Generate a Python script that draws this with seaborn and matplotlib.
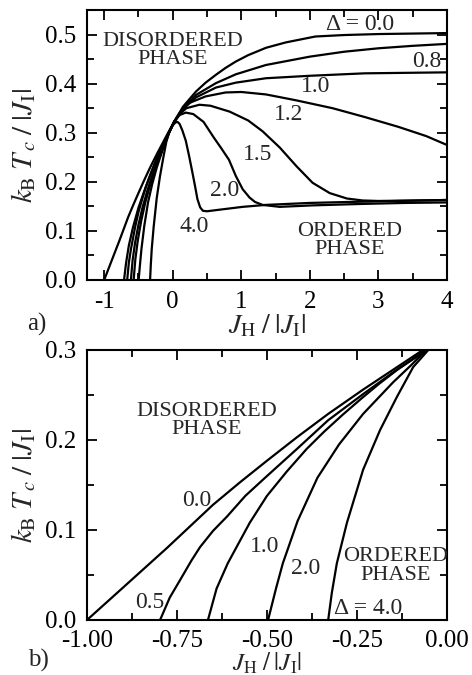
import matplotlib
matplotlib.use("Agg")
import matplotlib.pyplot as plt
import seaborn as sns
import pandas as pd
from matplotlib.ticker import MultipleLocator

# ---------------- data ----------------
d00_x = [-1.0, -0.9, -0.778, -0.65, -0.575, -0.5, -0.417, -0.33, -0.233, -0.15, -0.067, 0.02,
         0.15, 0.34, 0.48, 0.63, 0.77, 0.92, 1.1, 1.36, 1.65, 2.08, 2.5, 3.0, 3.5, 4.0]
d00_y = [0.0, 0.036, 0.08, 0.128, 0.153, 0.177, 0.203, 0.229, 0.256, 0.278, 0.300, 0.322,
         0.353, 0.384, 0.402, 0.418, 0.432, 0.445, 0.458, 0.473, 0.484, 0.496, 0.499, 0.501, 0.502, 0.503]

d05_x = [-0.797, -0.77, -0.742, -0.71, -0.686, -0.65, -0.611, -0.56, -0.5, -0.417, -0.33, -0.233,
         -0.15, -0.058, 0.02]
d05_y = [0.0, 0.025, 0.044, 0.066, 0.081, 0.099, 0.115, 0.138, 0.16, 0.19, 0.222, 0.251,
         0.275, 0.300, 0.322]

d08_x = [-0.71, -0.68, -0.64, -0.58, -0.5, -0.4, -0.3, -0.2, -0.1, -0.055, 0.02, 0.15, 0.34,
         0.63, 0.92, 1.36, 2.0, 2.5, 3.0, 3.5, 4.0]
d08_y = [0.0, 0.035, 0.07, 0.107, 0.147, 0.187, 0.223, 0.257, 0.287, 0.300, 0.322, 0.350, 0.377,
         0.401, 0.419, 0.438, 0.455, 0.465, 0.472, 0.477, 0.481]

d10_x = [-0.664, -0.64, -0.609, -0.548, -0.5, -0.445, -0.39, -0.342, -0.29, -0.238, -0.19, -0.135,
         -0.056, 0.02, 0.15, 0.34, 0.63, 0.92, 1.36, 2.0, 2.8, 3.4, 4.0]
d10_y = [0.0, 0.035, 0.063, 0.108, 0.138, 0.165, 0.19, 0.209, 0.228, 0.246, 0.262, 0.279,
         0.300, 0.322, 0.348, 0.372, 0.392, 0.402, 0.411, 0.416, 0.421, 0.422, 0.423]

d12_x = [-0.61, -0.585, -0.55, -0.5, -0.44, -0.37, -0.3, -0.22, -0.14, -0.055, 0.02, 0.1, 0.23,
         0.48, 0.77, 1.0, 1.36, 1.8, 2.33, 2.8, 3.29, 3.7, 4.0]
d12_y = [0.0, 0.04, 0.075, 0.112, 0.148, 0.182, 0.212, 0.242, 0.27, 0.300, 0.322, 0.340, 0.36,
         0.374, 0.382, 0.383, 0.378, 0.366, 0.35, 0.332, 0.312, 0.293, 0.275]

d15_x = [-0.57, -0.545, -0.51, -0.46, -0.4, -0.33, -0.26, -0.18, -0.11, -0.055, 0.02, 0.1, 0.2,
         0.39, 0.55, 0.83, 1.1, 1.31, 1.56, 1.81, 2.04, 2.29, 2.54, 2.77, 3.0, 3.5, 4.0]
d15_y = [0.0, 0.042, 0.08, 0.12, 0.158, 0.193, 0.224, 0.255, 0.28, 0.300, 0.322, 0.338, 0.350,
         0.357, 0.355, 0.343, 0.325, 0.303, 0.27, 0.231, 0.198, 0.177, 0.166, 0.162, 0.161, 0.162, 0.163]

d20_x = [-0.497, -0.475, -0.456, -0.415, -0.36, -0.3, -0.233, -0.15, -0.1, -0.058, 0.02, 0.1, 0.19,
         0.3, 0.45, 0.6, 0.7, 0.82, 0.92, 1.02, 1.12, 1.2, 1.31, 1.56, 2.04, 2.77, 3.4, 4.0]
d20_y = [0.0, 0.035, 0.063, 0.11, 0.158, 0.195, 0.229, 0.264, 0.283, 0.300, 0.322, 0.336, 0.341,
         0.338, 0.322, 0.29, 0.27, 0.245, 0.212, 0.185, 0.168, 0.159, 0.153, 0.149, 0.152, 0.155, 0.157, 0.158]

d40_x = [-0.33, -0.32, -0.306, -0.278, -0.233, -0.186, -0.139, -0.094, -0.052, 0.0, 0.04, 0.07,
         0.1, 0.14, 0.19, 0.24, 0.29, 0.33, 0.36, 0.4, 0.44, 0.5, 0.67, 1.02, 1.36, 2.0, 2.57, 3.3, 4.0]
d40_y = [0.0, 0.03, 0.063, 0.108, 0.167, 0.211, 0.248, 0.281, 0.300, 0.315, 0.321, 0.322,
         0.318, 0.305, 0.284, 0.252, 0.217, 0.188, 0.165, 0.148, 0.141, 0.140, 0.143, 0.149, 0.153,
         0.157, 0.159, 0.161, 0.163]

curves = {
    "0.0": (d00_x, d00_y), "0.5": (d05_x, d05_y), "0.8": (d08_x, d08_y),
    "1.0": (d10_x, d10_y), "1.2": (d12_x, d12_y), "1.5": (d15_x, d15_y),
    "2.0": (d20_x, d20_y), "4.0": (d40_x, d40_y),
}
top_deltas = ["0.0", "0.8", "1.0", "1.2", "1.5", "2.0", "4.0"]
bottom_deltas = ["0.0", "0.5", "1.0", "2.0", "4.0"]

top_xticks = [-1, 0, 1, 2, 3, 4]
top_xticklabels = ["-1", "0", "1", "2", "3", "4"]
top_yticks = [0.0, 0.1, 0.2, 0.3, 0.4, 0.5]
top_yticklabels = ["0.0", "0.1", "0.2", "0.3", "0.4", "0.5"]
bot_xticks = [-1.0, -0.75, -0.5, -0.25, 0.0]
bot_xticklabels = ["-1.00", "-0.75", "-0.50", "-0.25", "0.00"]
bot_yticks = [0.0, 0.1, 0.2, 0.3]
bot_yticklabels = ["0.0", "0.1", "0.2", "0.3"]

rows = []
for d, (xs, ys) in curves.items():
    for i, (xv, yv) in enumerate(zip(xs, ys)):
        rows.append({"delta": d, "i": i, "x": xv, "y": yv})
df = pd.DataFrame(rows)

# ---------------- style ----------------
sns.set_theme(style="ticks")
plt.rcParams["font.family"] = ["Liberation Serif", "DejaVu Serif"]
plt.rcParams["mathtext.fontset"] = "stix"
plt.rcParams["axes.linewidth"] = 1.5

fig = plt.figure(figsize=(4.72, 6.75), dpi=100)
W, H = 472, 675
ax1 = fig.add_axes([87 / W, 1 - 280 / H, 360 / W, 270 / H])
ax2 = fig.add_axes([87 / W, 1 - 620 / H, 360 / W, 270 / H])


def draw(ax, deltas):
    sub = df[df["delta"].isin(deltas)]
    sns.lineplot(data=sub, x="x", y="y", units="delta", estimator=None, sort=False,
                 color="black", lw=1.6, ax=ax, legend=False)


def style(ax, xt, xtl, yt, ytl, xminor, yminor, xpad):
    ax.set_xticks(xt)
    ax.set_xticklabels(xtl)
    ax.set_yticks(yt)
    ax.set_yticklabels(ytl)
    ax.xaxis.set_minor_locator(MultipleLocator(xminor))
    ax.yaxis.set_minor_locator(MultipleLocator(yminor))
    ax.tick_params(which="both", direction="in", top=True, right=True, width=1.3,
                   labelsize=18, colors="black")
    ax.tick_params(which="major", length=7, pad=8)
    ax.tick_params(axis="x", which="major", pad=xpad)
    ax.tick_params(which="minor", length=5)
    for s in ax.spines.values():
        s.set_color("black")
        s.set_linewidth(1.5)
    ax.set_ylabel(r"$k_{\rm B}\;T_{\,c}\;/\;|J_{\rm I}|$", fontsize=21, labelpad=5)


draw(ax1, top_deltas)
ax1.set_xlim(-1.25, 4.0)
ax1.set_ylim(0, 0.55)
style(ax1, top_xticks, top_xticklabels, top_yticks, top_yticklabels, 0.5, 0.05, 8)
ax1.set_xlabel(r"$J_{\rm H}\;/\;|J_{\rm I}|$", fontsize=20, labelpad=0)

draw(ax2, bottom_deltas)
ax2.set_xlim(-1.0, 0.0)
ax2.set_ylim(0, 0.3)
style(ax2, bot_xticks, bot_xticklabels, bot_yticks, bot_yticklabels, 0.125, 0.05, 7)
ax2.set_xlabel(r"$J_{\rm H}\;/\;|J_{\rm I}|$", fontsize=18, labelpad=-1)

fs_lab = 17
fs_ph = 16
# top panel annotations
ax1.text(0.0, 0.468, "DISORDERED\nPHASE", fontsize=fs_ph, ha="center", va="center", linespacing=0.95)
ax1.text(2.58, 0.08, "ORDERED\nPHASE", fontsize=fs_ph, ha="center", va="center", linespacing=0.95)
ax1.text(2.73, 0.52, "Δ = 0.0", fontsize=fs_lab, ha="center", va="center")
ax1.text(3.70, 0.445, "0.8", fontsize=fs_lab, ha="center", va="center")
ax1.text(2.08, 0.394, "1.0", fontsize=fs_lab, ha="center", va="center")
ax1.text(1.69, 0.337, "1.2", fontsize=fs_lab, ha="center", va="center")
ax1.text(1.24, 0.255, "1.5", fontsize=fs_lab, ha="center", va="center")
ax1.text(0.76, 0.182, "2.0", fontsize=fs_lab, ha="center", va="center")
ax1.text(0.32, 0.108, "4.0", fontsize=fs_lab, ha="center", va="center")

# bottom panel annotations
ax2.text(-0.667, 0.222, "DISORDERED\nPHASE", fontsize=fs_ph, ha="center", va="center", linespacing=0.95)
ax2.text(-0.144, 0.06, "ORDERED\nPHASE", fontsize=fs_ph, ha="center", va="center", linespacing=0.95)
ax2.text(-0.694, 0.133, "0.0", fontsize=fs_lab, ha="center", va="center")
ax2.text(-0.825, 0.019, "0.5", fontsize=fs_lab, ha="center", va="center")
ax2.text(-0.506, 0.082, "1.0", fontsize=fs_lab, ha="center", va="center")
ax2.text(-0.394, 0.057, "2.0", fontsize=fs_lab, ha="center", va="center")
ax2.text(-0.22, 0.013, "Δ = 4.0", fontsize=fs_lab, ha="center", va="center")

fig.text(37 / W, 1 - 324 / H, "a)", fontsize=18, ha="center", va="center")
fig.text(38 / W, 1 - 660 / H, "b)", fontsize=18, ha="center", va="center")

fig.savefig("out.png", dpi=100)
